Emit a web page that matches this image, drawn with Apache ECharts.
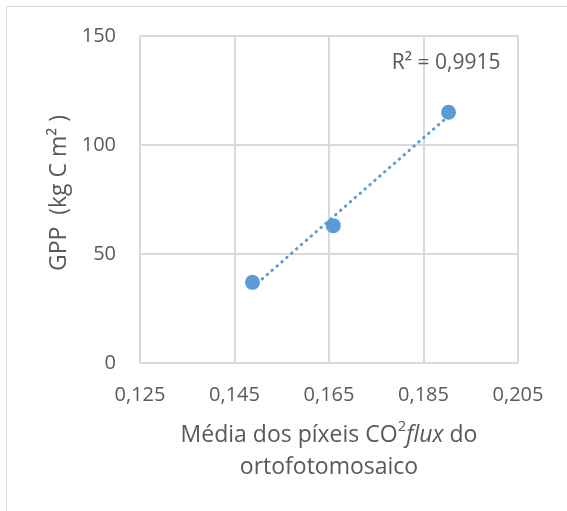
<!DOCTYPE html>
<html>
<head>
<meta charset="utf-8">
<script src="https://cdn.jsdelivr.net/npm/echarts@6/dist/echarts.min.js"></script>
<style>
  html, body { margin: 0; padding: 0; background: #fff; }
  #chart { width: 567px; height: 511px; }
</style>
</head>
<body>
<div id="chart"></div>
<script>
// Data
const xValues = [0.1488, 0.1659, 0.1903];   // Média dos píxeis CO2flux
const yValues = [37, 63, 115];               // GPP (kg C m2)
const xTicks = [0.125, 0.145, 0.165, 0.185, 0.205];
const yTicks = [0, 50, 100, 150];
const r2Label = 'R² = 0,9915';

const points = xValues.map((x, i) => [x, yValues[i]]);

// Linear least-squares trendline (as Excel's linear trendline)
const n = xValues.length;
const mx = xValues.reduce((a, b) => a + b, 0) / n;
const my = yValues.reduce((a, b) => a + b, 0) / n;
let sxy = 0, sxx = 0;
for (let i = 0; i < n; i++) {
  sxy += (xValues[i] - mx) * (yValues[i] - my);
  sxx += (xValues[i] - mx) * (xValues[i] - mx);
}
const slope = sxy / sxx;
const intercept = my - slope * mx;
const xMin = Math.min(...xValues), xMax = Math.max(...xValues);
const trend = [[xMin, intercept + slope * xMin], [xMax, intercept + slope * xMax]];

const FONT = '"Open Sans", "Liberation Sans", sans-serif';
const TXT = '#595959';
const GRID = '#D9D9D9';
const BLUE = '#5B9BD5';

const chart = echarts.init(document.getElementById('chart'), null, { renderer: 'canvas' });
chart.setOption({
  animation: false,
  backgroundColor: '#fff',
  textStyle: { fontFamily: FONT, color: TXT },
  grid: { left: 140, top: 36, width: 378, height: 327, containLabel: false },
  xAxis: {
    type: 'value',
    min: xTicks[0],
    max: xTicks[xTicks.length - 1],
    interval: xTicks[1] - xTicks[0],
    axisLine: { show: true, lineStyle: { color: GRID, width: 2 } },
    axisTick: { show: false },
    splitLine: { show: true, lineStyle: { color: GRID, width: 2 } },
    axisLabel: {
      margin: 22,
      fontSize: 20,
      color: TXT,
      fontFamily: FONT,
      formatter: v => v.toFixed(3).replace('.', ',')
    },
    name: 'Média dos píxeis CO{sup|2}{it|flux} do\nortofotomosaico',
    nameLocation: 'middle',
    nameGap: 56,
    nameTextStyle: {
      fontSize: 23,
      color: TXT,
      fontFamily: FONT,
      lineHeight: 32,
      align: 'center',
      rich: {
        sup: { fontSize: 15, color: TXT, fontFamily: FONT, verticalAlign: 'top', padding: [0, 0, 10, 0], lineHeight: 32 },
        it: { fontSize: 23, fontStyle: 'italic', color: TXT, fontFamily: FONT, lineHeight: 32 }
      }
    }
  },
  yAxis: {
    type: 'value',
    min: yTicks[0],
    max: yTicks[yTicks.length - 1],
    interval: yTicks[1] - yTicks[0],
    axisLine: { show: false },
    axisTick: { show: false },
    splitLine: { show: true, lineStyle: { color: GRID, width: 2 } },
    axisLabel: { margin: 24, fontSize: 20, color: TXT, fontFamily: FONT },
    name: 'GPP  (kg C m² )',
    nameLocation: 'middle',
    nameGap: 68,
    nameTextStyle: { fontSize: 23, color: TXT, fontFamily: FONT, padding: [0, 0, 0, 13] }
  },
  series: [
    {
      type: 'line',
      data: trend,
      showSymbol: false,
      symbol: 'none',
      lineStyle: { color: BLUE, width: 3, type: [0.5, 6], cap: 'round' },
      z: 2,
      silent: true
    },
    {
      type: 'scatter',
      data: points,
      symbol: 'circle',
      symbolSize: 15,
      itemStyle: { color: BLUE, opacity: 1 },
      z: 3
    }
  ]
});
// R² label positioned in data space near the upper right of the plot
chart.setOption({
  graphic: [{
    type: 'rect',
    shape: { x: 6.5, y: 6.5, width: 600, height: 600 },
    style: { fill: 'none', stroke: GRID, lineWidth: 1 },
    silent: true, z: -10
  }, {
    type: 'text',
    position: chart.convertToPixel({ gridIndex: 0 }, [0.1898, 137.6]),
    style: { text: r2Label, font: '21px ' + FONT, fill: TXT, textAlign: 'center', textVerticalAlign: 'middle' },
    silent: true, z: 10
  }]
});
</script>
</body>
</html>
